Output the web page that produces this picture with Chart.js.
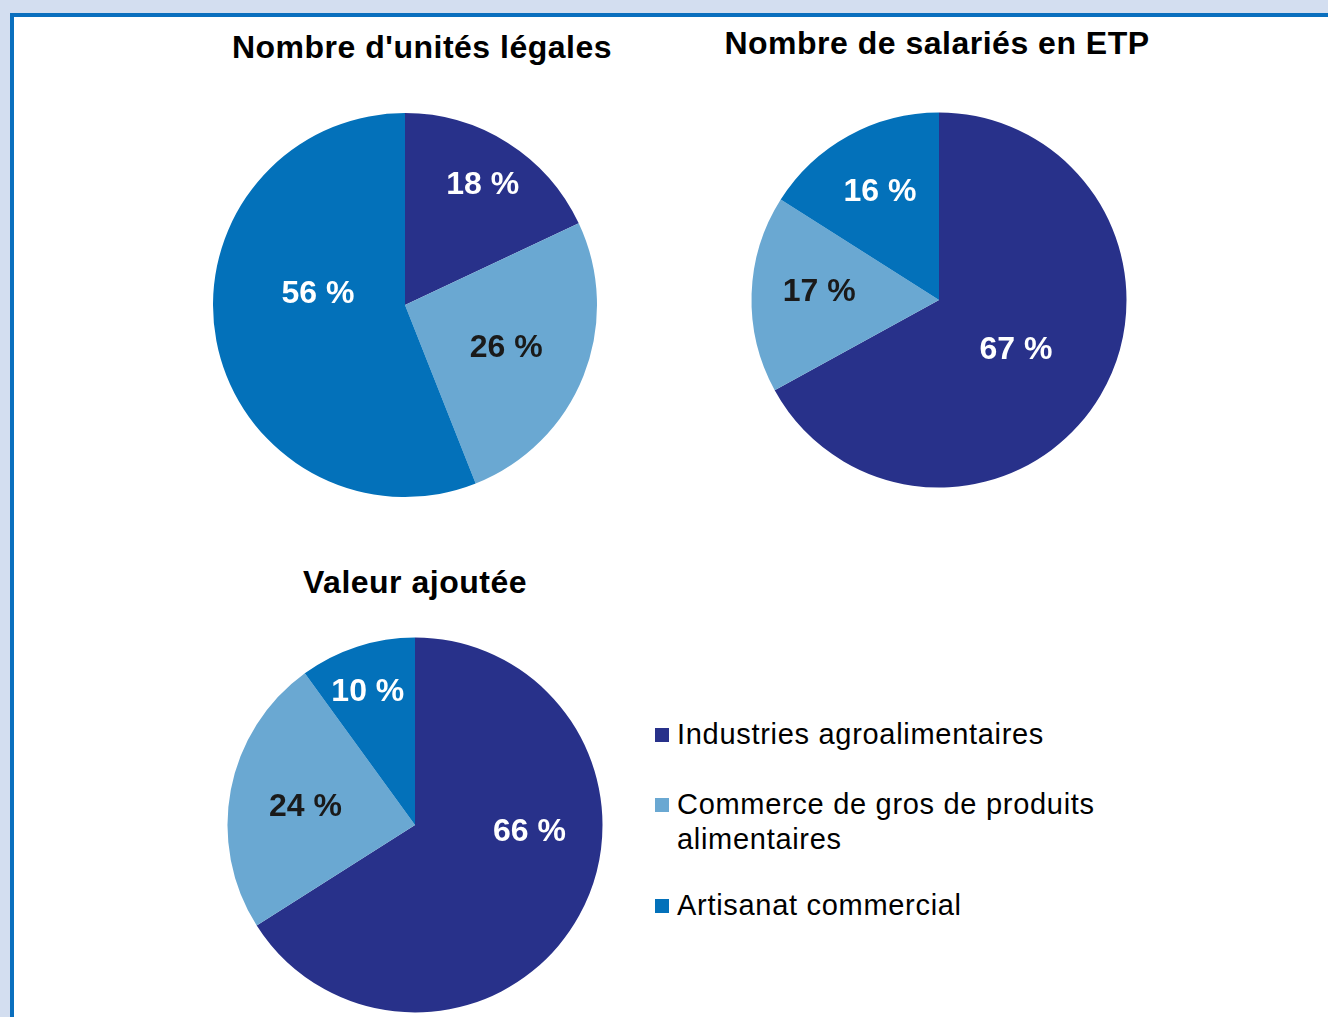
<!DOCTYPE html>
<html><head><meta charset="utf-8">
<script src="https://cdn.jsdelivr.net/npm/chart.js@4/dist/chart.umd.min.js"></script>
<style>
html,body{margin:0;padding:0;}
body{width:1328px;height:1017px;background:#d3def0;position:relative;overflow:hidden;font-family:"Liberation Sans",Arial,sans-serif;}
#frame{position:absolute;left:10px;top:13px;width:1330px;height:1020px;background:#fff;border-top:4px solid #0a6fbe;border-left:4px solid #0a6fbe;}
.title{position:absolute;font-weight:bold;font-size:32px;line-height:32px;letter-spacing:0.5px;transform:translateX(-50%);white-space:nowrap;color:#000;}
canvas{position:absolute;}
#legend{position:absolute;left:655px;top:717px;width:470px;}
.item{position:relative;padding-left:22px;font-size:29px;line-height:35px;letter-spacing:0.7px;color:#000;margin-bottom:35px;}
.item:nth-child(2){margin-bottom:31px;}
.sw{position:absolute;left:0;top:11px;width:14px;height:14px;}
</style></head>
<body>
<div id="frame"></div>
<div class="title" style="left:422px;top:31px;">Nombre d'unités légales</div>
<div class="title" style="left:937px;top:27px;">Nombre de salariés en ETP</div>
<div class="title" style="left:415px;top:566px;">Valeur ajoutée</div>
<canvas id="c1" width="400" height="400" style="left:205px;top:105px;"></canvas>
<canvas id="c2" width="400" height="400" style="left:739px;top:100px;"></canvas>
<canvas id="c3" width="400" height="400" style="left:215px;top:625px;"></canvas>
<div id="legend"></div>
<script>
// ---- data ----
const categories = ["Industries agroalimentaires", "Commerce de gros de produits alimentaires", "Artisanat commercial"];
const unitesLegales = [18, 26, 56];
const salariesETP = [67, 17, 16];
const valeurAjoutee = [66, 24, 10];

// ---- styles ----
const colors = ["#28318a", "#6aa8d2", "#0371ba"];
const labelColors = ["#ffffff", "#1a1a1a", "#ffffff"];
// label placement: [radius fraction, angle shift in degrees] per slice
const labelPlace1 = [[0.756, 0], [0.567, 0], [0.459, 19.5]];
const labelPlace2 = [[0.483, 1.3], [0.641, 3.2], [0.668, 0.7]];
const labelPlace3 = [[0.611, -26.5], [0.595, 0], [0.765, -1.2]];

const labelPlugin = {
  id: 'sliceLabels',
  afterDatasetsDraw(chart, args, opts) {
    const ctx = chart.ctx;
    const meta = chart.getDatasetMeta(0);
    const data = chart.data.datasets[0].data;
    ctx.save();
    ctx.font = 'bold 32px "Liberation Sans", Arial, sans-serif';
    ctx.textAlign = 'center';
    ctx.textBaseline = 'alphabetic';
    meta.data.forEach((arc, i) => {
      const p = arc.getProps(['x', 'y', 'startAngle', 'endAngle', 'outerRadius'], true);
      const place = opts.place[i];
      const mid = (p.startAngle + p.endAngle) / 2 + place[1] * Math.PI / 180;
      const r = p.outerRadius * place[0];
      const x = p.x + Math.cos(mid) * r;
      const y = p.y + Math.sin(mid) * r;
      ctx.fillStyle = labelColors[i];
      ctx.fillText(data[i] + ' %', x, y + 11.5);
    });
    ctx.restore();
  }
};

function makePie(id, values, place, pad) {
  return new Chart(document.getElementById(id), {
    type: 'pie',
    data: { labels: categories, datasets: [{ data: values, backgroundColor: colors, borderWidth: 0 }] },
    options: {
      responsive: false,
      animation: false,
      layout: { padding: pad },
      plugins: { legend: { display: false }, tooltip: { enabled: false }, title: { display: false }, sliceLabels: { place: place } }
    },
    plugins: [labelPlugin]
  });
}
makePie('c1', unitesLegales, labelPlace1, 8);
makePie('c2', salariesETP, labelPlace2, 12.5);
makePie('c3', valeurAjoutee, labelPlace3, 12.5);

// legend
const leg = document.getElementById('legend');
categories.forEach((c, i) => {
  const d = document.createElement('div');
  d.className = 'item';
  d.innerHTML = '<span class="sw" style="background:' + colors[i] + '"></span>' + c;
  leg.appendChild(d);
});
</script>
</body></html>
